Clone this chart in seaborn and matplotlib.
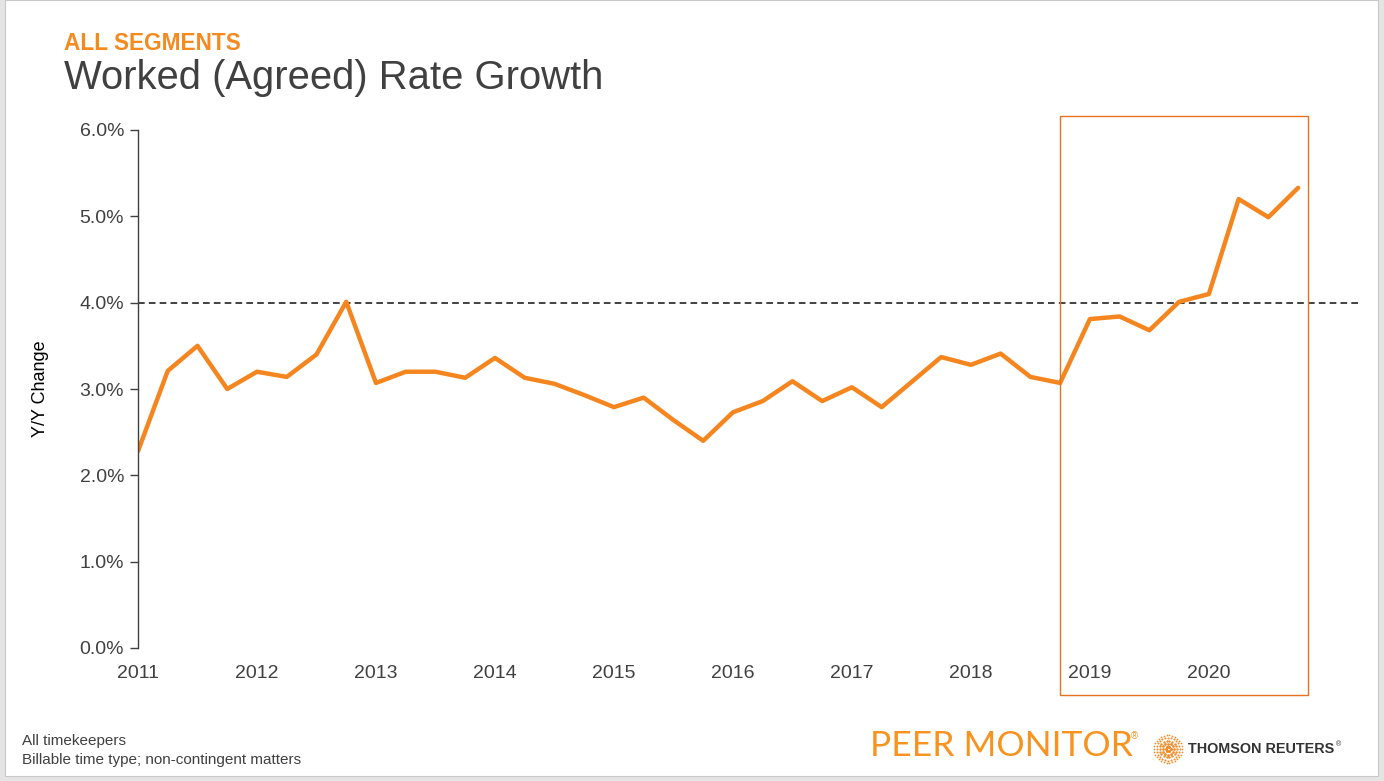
import numpy as np
import pandas as pd
import matplotlib.pyplot as plt
import seaborn as sns
from matplotlib.patches import Rectangle

# data: quarterly Y/Y change (%), 2011 Q1 .. 2020 Q4
years = list(range(2011, 2021))
quarters = [y + q * 0.25 for y in years for q in range(4)]
growth = [2.28, 3.21, 3.50, 3.00,
          3.20, 3.14, 3.40, 4.01,
          3.07, 3.20, 3.20, 3.13,
          3.36, 3.13, 3.06, 2.93,
          2.79, 2.90, 2.64, 2.40,
          2.73, 2.86, 3.09, 2.86,
          3.02, 2.79, 3.08, 3.37,
          3.28, 3.41, 3.14, 3.07,
          3.81, 3.84, 3.68, 4.01,
          4.10, 5.20, 4.99, 5.33]
target = 4.0
yticks = [0, 1, 2, 3, 4, 5, 6]

df = pd.DataFrame({"quarter": quarters, "growth": growth})

sns.set_theme(style="white")
plt.rcParams['font.family'] = ['Liberation Sans', 'DejaVu Sans']

orange = "#F5861F"
dark = "#404040"

fig = plt.figure(figsize=(13.84, 7.81), dpi=100)

# slide frame
fig.patches.append(Rectangle((0, 0), 1, 1, transform=fig.transFigure,
                             facecolor="#e4e4e4", edgecolor="none", zorder=-10))
fig.patches.append(Rectangle((5 / 1384, 5 / 781), 1373 / 1384, 776 / 781,
                             transform=fig.transFigure, facecolor="white",
                             edgecolor="#c8c8c8", lw=0.8, zorder=-9))

ax = fig.add_axes([138 / 1384, 1 - 648 / 781, 1222 / 1384, 518 / 781])
ax.set_facecolor("none")

sns.lineplot(data=df, x="quarter", y="growth", color=orange, linewidth=3.2, ax=ax)
ax.axhline(target, color="#222222", linestyle=(0, (4, 2.5)), linewidth=1.2, zorder=1)

ax.set_xlim(2011, 2021.27)
ax.set_ylim(0, 6)
ax.set_xticks(years)
ax.set_xticklabels([str(y) for y in years], fontsize=14, color=dark)
ax.set_yticks(yticks)
ax.set_yticklabels([f"{v:.1f}%" for v in yticks], fontsize=14, color=dark)
ax.tick_params(axis="x", length=0, pad=12)
ax.tick_params(axis="y", length=6, width=1, color=dark, direction="out", left=True, pad=4)
for s in ["top", "right", "bottom"]:
    ax.spines[s].set_visible(False)
ax.spines["left"].set_color(dark)
ax.spines["left"].set_linewidth(1)
ax.set_xlabel("")
ax.set_ylabel("Y/Y Change", fontsize=13, color="black", labelpad=22)

# highlight box for 2019-2020
ax.add_patch(Rectangle((2018.75, -0.545), 2.08, 6.71, fill=False,
                       edgecolor="#E8731E", linewidth=1, clip_on=False, zorder=3))

# titles
fig.text(64 / 1384, 1 - 44 / 781, "ALL SEGMENTS", fontsize=16.3, fontweight="bold",
         color="#F58A1F", va="center")
fig.text(64 / 1384, 1 - 78 / 781, "Worked (Agreed) Rate Growth", fontsize=28.8,
         color=dark, va="center")

# footnotes
fig.text(22 / 1384, 1 - 741 / 781, "All timekeepers", fontsize=11, color=dark, va="center")
fig.text(22 / 1384, 1 - 760 / 781, "Billable time type; non-contingent matters",
         fontsize=11, color=dark, va="center")

# logos
fig.text(870 / 1384, 1 - 746 / 781, "PEER MONITOR", fontsize=25.5, color="#F7931E",
         va="center", family=["Lato", "DejaVu Sans"])
fig.text(1131 / 1384, 1 - 736 / 781, "®", fontsize=7, color="#F7931E", va="center")
fig.text(1188 / 1384, 1 - 749 / 781, "THOMSON REUTERS", fontsize=10.4, fontweight="bold",
         color="#333333", va="center")
fig.text(1336 / 1384, 1 - 745 / 781, "®", fontsize=5, color="#333333", va="center")

# dotted sphere logo
cx, cy = 1168, 749
for r, n in [(2.5, 6), (5.5, 12), (8.5, 18), (11.5, 24), (14, 30)]:
    ang = np.linspace(0, 2 * np.pi, n, endpoint=False)
    fig.add_artist(plt.Line2D(
        (cx + r * np.cos(ang)) / 1384, 1 - (cy + r * np.sin(ang)) / 781,
        transform=fig.transFigure, linestyle="none", marker="o",
        markersize=2.4 - r / 12, color="#F08A24", markeredgewidth=0))

fig.savefig("out.png", dpi=100)
